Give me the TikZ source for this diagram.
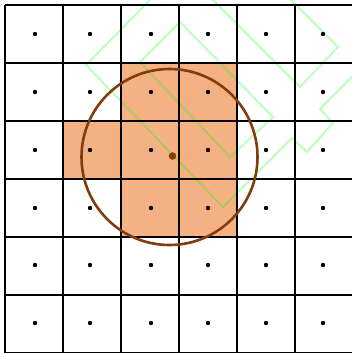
\documentclass[tikz,border=0pt]{standalone}
\definecolor{cellorange}{HTML}{F4B183}
\definecolor{circbrown}{HTML}{843C0C}
\tikzset{
  cellfill/.style={fill=cellorange},
  greenline/.style={draw=green, draw opacity=0.28, line width=1.8pt, line join=miter},
  gridline/.style={draw=black, line width=1.7pt},
  brownline/.style={draw=circbrown, line width=2.6pt},
  griddot/.style={fill=black},
}
\begin{document}
\begin{tikzpicture}[x=1pt,y=-1pt]
\useasboundingbox (0,0) rectangle (352,353);
\clip (0,0) rectangle (352,353);
\fill[white] (0,0) rectangle (352,353);
% orange cells
\fill[cellfill] (121,63) rectangle (237,121);
\fill[cellfill] (63,121) rectangle (237,179);
\fill[cellfill] (121,179) rectangle (237,237);
% green rotated outlines
\draw[greenline] (160,-10) -- (86,65) -- (223,207) -- (292,138) -- (307,152) -- (333,123) -- (320,109) -- (370,59);
\draw[greenline] (140,62) -- (180,22) -- (273,117) -- (230,157) -- cycle;
\draw[greenline] (300,87) -- (338,47) -- (238,-53) -- (200,-13) -- cycle;
% grid
\foreach \i in {0,...,6} {
  \draw[gridline] ({5+58*\i},5) -- ({5+58*\i},353);
  \draw[gridline] (5,{5+58*\i}) -- (353,{5+58*\i});
}
% dots
\foreach \x in {35,90,151,208,266,323} {
  \foreach \y in {34,92,150,208,265,323} {
    \fill[griddot] (\x,\y) circle (2.2pt);
  }
}
% circle and centre
\coordinate (c) at (169.5,157);
\draw[brownline] (c) circle (88pt);
\coordinate (cd) at (172.5,156);
\fill[circbrown] (cd) circle (3.8pt);
\end{tikzpicture}
\end{document}
